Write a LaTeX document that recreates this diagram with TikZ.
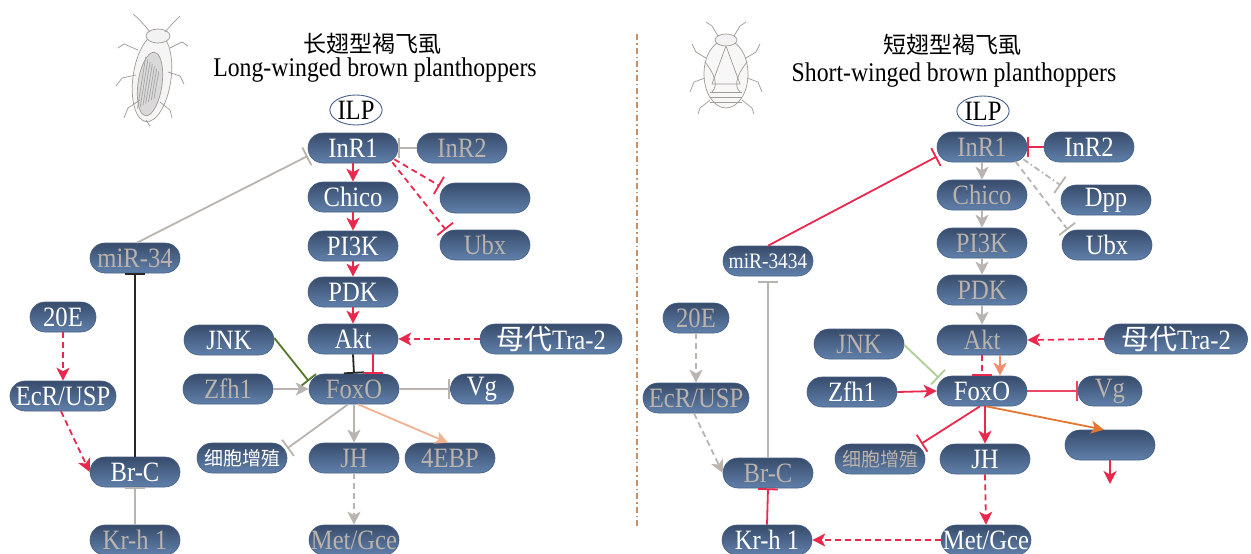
\documentclass[tikz,border=0pt]{standalone}
\usepackage{fontspec}
\setmainfont{Liberation Serif}[FakeStretch=0.88]
\newfontfamily\cjk{Noto Sans CJK SC}
\usetikzlibrary{arrows.meta,calc,shapes.geometric}

\definecolor{ntop}{RGB}{56,76,108}
\definecolor{nbot}{RGB}{96,128,170}
\definecolor{nedge}{RGB}{72,96,132}
\definecolor{offtxt}{RGB}{186,178,172}
\definecolor{actred}{RGB}{232,40,76}
\definecolor{inhgray}{RGB}{186,180,176}
\definecolor{jnkgreen}{RGB}{84,120,44}
\definecolor{jnklight}{RGB}{172,208,148}
\definecolor{peach}{RGB}{242,178,144}
\definecolor{salmon}{RGB}{242,142,112}
\definecolor{orangearr}{RGB}{226,120,52}
\definecolor{divider}{RGB}{204,142,100}
\definecolor{ilpedge}{RGB}{70,96,140}
\definecolor{sketch}{RGB}{160,156,150}

\newcommand{\nodefont}{\fontsize{28}{30}\selectfont}
\newcommand{\cellfont}{\cjk\fontsize{19}{21}\selectfont}

\tikzset{
  pill/.style={rounded corners=15pt, minimum width=90pt, minimum height=30pt,
    top color=ntop, bottom color=nbot, draw=nedge, line width=0.6pt,
    inner sep=0pt, font=\nodefont},
  on/.style={pill, text=white},
  off/.style={pill, text=offtxt},
  ilp/.style={ellipse, draw=ilpedge, line width=0.9pt, fill=white,
    minimum width=52pt, minimum height=30pt, inner sep=0pt, font=\nodefont},
  act/.style={-{Stealth[length=13pt,width=13pt,inset=3.5pt]}, line width=1.8pt},
  inh/.style={-{Bar[width=20pt,line width=1.8pt]}, line width=1.8pt},
  dsh/.style={dash pattern=on 6pt off 4pt},
  dshdot/.style={dash pattern=on 6pt off 3pt on 1.5pt off 3pt},
  bug/.style={draw=sketch, line width=0.7pt},
}

\begin{document}
\begin{tikzpicture}[x=1pt, y=-1pt]
\fill[white] (0,0) rectangle (1251,554);
\useasboundingbox (0,0) rectangle (1251,554);

% ---------- divider between the two panels ----------
\draw[divider, line width=1.4pt, dshdot] (637,34) -- (637,528);

% ---------- long-winged insect sketch ----------
\begin{scope}[bug]
  \draw[fill=gray!8, rotate around={-8:(152,78)}] (152,78) ellipse (19 and 44);
  \draw[fill=gray!30, rotate around={-8:(150,84)}] (150,84) ellipse (12 and 32);
  \foreach \k in {0,...,6}
    \draw[gray!70, rotate around={-8:(150,84)}] (142+2.5*\k,58+2*\k) -- (141+2.5*\k,110-2*\k);
  \draw[fill=gray!10] (158,36) ellipse (12 and 7);
  \draw (150,32) .. controls (142,22) and (138,18) .. (133,14);
  \draw (165,32) .. controls (172,24) and (176,20) .. (180,16);
  \draw (138,50) -- (124,44) -- (118,48);
  \draw (170,48) -- (182,42) -- (188,46);
  \draw (136,75) -- (122,78) -- (116,86);
  \draw (168,72) -- (180,76) -- (184,84);
  \draw (140,100) -- (128,108) -- (124,118);
  \draw (160,102) -- (170,110) -- (172,118);
  \draw (146,120) -- (150,126);
\end{scope}

% ---------- short-winged insect sketch ----------
\begin{scope}[bug]
  \draw[fill=gray!6] (726,74) ellipse (22 and 34);
  \draw[fill=gray!10] (726,40) ellipse (11 and 6);
  \draw (726,46) -- (712,84) -- (740,84) -- cycle;
  \draw (705,62) .. controls (716,76) and (718,86) .. (712,92);
  \draw (747,62) .. controls (736,76) and (734,86) .. (740,92);
  \foreach \yy in {92,97,102}
    \draw (710,\yy) -- (742,\yy);
  \draw (718,36) -- (712,26) -- (706,22);
  \draw (734,36) -- (740,26) -- (746,22);
  \draw (706,58) -- (696,52) -- (692,44);
  \draw (746,58) -- (756,52) -- (760,44);
  \draw (705,78) -- (694,82) -- (690,92);
  \draw (747,78) -- (758,82) -- (762,92);
  \draw (710,100) -- (700,108) -- (698,114);
  \draw (742,100) -- (752,108) -- (754,114);
\end{scope}

% ---------- titles ----------
\node (tcnL) at (372,44) {\cjk\fontsize{23}{25}\selectfont 长翅型褐飞虱};
\node (tenL) at (375,70) {\fontsize{27}{30}\selectfont Long-winged brown planthoppers};
\node (tcnR) at (952,45) {\cjk\fontsize{23}{25}\selectfont 短翅型褐飞虱};
\node (tenR) at (954,75) {\fontsize{27}{30}\selectfont Short-winged brown planthoppers};

% ================= long-winged panel =================
\node[ilp] (ilpL) at (356,110) {ILP};
\node[on]  (inr1L)  at (353,148) {InR1};
\node[off] (inr2L)  at (462,148) {InR2};
\node[on]  (chicoL) at (353,197) {Chico};
\node[on]  (blankL) at (485,198) {};
\node[on]  (pi3kL)  at (353,246) {PI3K};
\node[off] (ubxL)   at (485,245) {Ubx};
\node[on]  (pdkL)   at (353,292) {PDK};
\node[on]  (aktL)   at (353,339) {Akt};
\node[on, minimum width=142pt] (traL) at (551,339) {{\cjk 母代}Tra-2};
\node[on]  (jnkL)   at (229,340) {JNK};
\node[off] (zfhL)   at (228,389) {Zfh1};
\node[off] (foxoL)  at (354,389) {FoxO};
\node[on, minimum width=63pt] (vgL) at (482,389) {Vg};
\node[on, font=\cellfont] (cellL) at (242,458) {细胞增殖};
\node[off] (jhL)    at (354,458) {JH};
\node[off] (ebpL)   at (450,458) {4EBP};
\node[off] (metL)   at (354,540) {Met/Gce};
\node[off] (mirL)   at (135,258) {miR-34};
\node[on, minimum width=66pt] (e20L) at (63,317) {20E};
\node[on, minimum width=106pt] (ecrL) at (63,396) {EcR/USP};
\node[on]  (brcL)   at (135,472) {Br-C};
\node[off] (krhL)   at (135,540) {Kr-h 1};

\draw[act, actred] (inr1L) -- (chicoL);
\draw[act, actred] (chicoL) -- (pi3kL);
\draw[act, actred] (pi3kL) -- (pdkL);
\draw[act, actred] (pdkL) -- (aktL);
\draw[inh, inhgray] (inr2L.west) -- (inr1L.east);
\draw[inh, actred, dsh] ([shift={(-4pt,4pt)}]inr1L.south east) -- (blankL.165);
\draw[inh, actred, dsh] ([shift={(-6pt,1pt)}]inr1L.south east) -- ([xshift=6pt]ubxL.north west);
\draw[inh, inhgray] ([xshift=2pt]mirL.north) -- (inr1L.190);
\draw[inh, black!85] (brcL.north) -- (mirL.south);
\draw[act, actred, dsh] (e20L.south) -- (ecrL.north);
\draw[act, actred, dsh] ([xshift=-2pt]ecrL.south) -- (brcL.west);
\draw[inh, inhgray] (krhL.north) -- (brcL.south);
\draw[act, actred, dsh] (traL.west) -- (aktL.east);
\draw[inh, black!85] (aktL.south) -- (foxoL.north);
\draw[inh, actred] ([xshift=20pt]aktL.south) -- ([xshift=19pt]foxoL.north);
\draw[inh, jnkgreen] ([yshift=2pt]jnkL.east) -- (foxoL.170);
\draw[act, inhgray] (zfhL.east) -- (foxoL.west);
\draw[inh, inhgray] (foxoL.east) -- (vgL.west);
\draw[inh, inhgray] ([xshift=-6pt]foxoL.south) -- (cellL.12);
\draw[act, inhgray] (foxoL.south) -- (jhL.north);
\draw[act, peach] ([xshift=4pt]foxoL.south) -- ([xshift=-2pt]ebpL.north);
\draw[act, inhgray, dsh] (jhL.south) -- (metL.north);

% ================= short-winged panel =================
\node[ilp] (ilpR) at (983,111) {ILP};
\node[off] (inr1R)  at (982,147) {InR1};
\node[on]  (inr2R)  at (1089,147) {InR2};
\node[off] (chicoR) at (982,195) {Chico};
\node[on]  (dppR)   at (1106,200) {Dpp};
\node[off] (pi3kR)  at (982,243) {PI3K};
\node[on]  (ubxR)   at (1107,245) {Ubx};
\node[off] (pdkR)   at (982,290) {PDK};
\node[off] (aktR)   at (982,340) {Akt};
\node[on, minimum width=143pt] (traR) at (1176,339) {{\cjk 母代}Tra-2};
\node[off] (jnkR)   at (859,344) {JNK};
\node[on]  (zfhR)   at (852,392) {Zfh1};
\node[on]  (foxoR)  at (982,391) {FoxO};
\node[off, minimum width=64pt] (vgR) at (1110,391) {Vg};
\node[off, font=\cellfont] (cellR) at (880,459) {细胞增殖};
\node[on]  (jhR)    at (985,459) {JH};
\node[on]  (blankR) at (1110,445) {};
\coordinate (blankOut) at (1110,484);
\node[on]  (metR)   at (986,540) {Met/Gce};
\node[on, font=\fontsize{22}{24}\selectfont] (mirR) at (768,261) {miR-3434};
\node[off, minimum width=66pt] (e20R) at (696,318) {20E};
\node[off, minimum width=106pt] (ecrR) at (696,398) {EcR/USP};
\node[off] (brcR)   at (768,473) {Br-C};
\node[on]  (krhR)   at (767,540) {Kr-h 1};

\draw[inh, actred] (mirR.north) -- (inr1R.192);
\draw[inh, actred] (inr2R.west) -- (inr1R.east);
\draw[inh, inhgray, dshdot] ([shift={(-4pt,3pt)}]inr1R.south east) -- (dppR.162);
\draw[inh, inhgray, dsh] ([shift={(-12pt,1pt)}]inr1R.south east) -- ([xshift=6pt]ubxR.north west);
\draw[act, inhgray] (inr1R) -- (chicoR);
\draw[act, inhgray] (chicoR) -- (pi3kR);
\draw[act, inhgray] (pi3kR) -- (pdkR);
\draw[act, inhgray] (pdkR) -- (aktR);
\draw[act, actred, dsh] (traR.west) -- (aktR.east);
\draw[inh, actred, dsh] (aktR.south) -- (foxoR.north);
\draw[act, salmon] ([xshift=18pt]aktR.south) -- ([xshift=18pt]foxoR.north);
\draw[inh, jnklight] ([yshift=-1pt]jnkR.east) -- ([shift={(2pt,-2pt)}]foxoR.north west);
\draw[act, actred] (zfhR.east) -- (foxoR.west);
\draw[inh, actred!85!white] (foxoR.east) -- (vgR.west);
\draw[inh, actred] ([xshift=-2pt]foxoR.south) -- ([xshift=-4pt]cellR.north east);
\draw[act, actred] ([xshift=3pt]foxoR.south) -- (jhR.north);
\draw[act, orangearr] ([xshift=4pt]foxoR.south) -- ([xshift=-6pt]blankR.north);
\draw[act, actred] (blankR.south) -- (blankOut);
\draw[act, actred, dsh] (jhR.south) -- (metR.north);
\draw[act, actred, dsh] (metR.west) -- (krhR.east);
\draw[inh, actred] (krhR.north) -- (brcR.south);
\draw[inh, inhgray] (brcR.north) -- ([yshift=-5pt]mirR.south);
\draw[act, inhgray, dsh] (e20R.south) -- (ecrR.north);
\draw[act, inhgray, dsh] ([xshift=-2pt]ecrR.south) -- (brcR.west);

\end{tikzpicture}
\end{document}
